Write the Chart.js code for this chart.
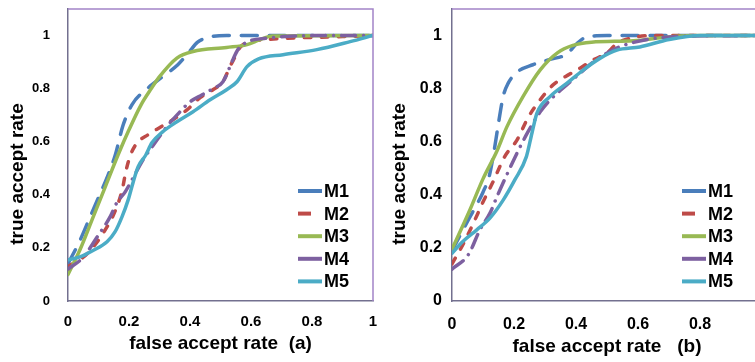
<!DOCTYPE html>
<html>
<head>
<meta charset="utf-8">
<script src="https://cdn.jsdelivr.net/npm/chart.js@4.4.1/dist/chart.umd.min.js"></script>
<style>
  html, body { margin: 0; padding: 0; background: #fff; overflow: hidden; }
  #wrap { position: relative; width: 755px; height: 362px; overflow: hidden; }
  canvas { position: absolute; top: 0; }
  #chartA { left: 0; }
  #chartB { left: 380px; }
</style>
</head>
<body>
<div id="wrap">
  <canvas id="chartA" width="380" height="362"></canvas>
  <canvas id="chartB" width="400" height="362"></canvas>
</div>
<script>
// series names and tick values
const seriesNames = ['M1', 'M2', 'M3', 'M4', 'M5'];
const xTicks = [0, 0.2, 0.4, 0.6, 0.8, 1];
const yTicks = [0, 0.2, 0.4, 0.6, 0.8, 1];

// panel (a): [false accept rate, true accept rate]
const a_M1 = [[0,0.14],[0.04,0.23],[0.07,0.31],[0.1,0.39],[0.13,0.47],[0.155,0.55],[0.18,0.66],[0.21,0.74],[0.26,0.8],[0.31,0.845],[0.36,0.89],[0.395,0.935],[0.425,0.975],[0.46,0.993],[0.52,1],[0.7,1],[1,1]];
const a_M2 = [[0,0.13],[0.05,0.165],[0.08,0.2],[0.115,0.255],[0.155,0.34],[0.178,0.42],[0.19,0.49],[0.205,0.55],[0.226,0.595],[0.262,0.626],[0.3,0.653],[0.344,0.683],[0.39,0.72],[0.433,0.766],[0.475,0.796],[0.508,0.826],[0.531,0.883],[0.548,0.92],[0.564,0.955],[0.597,0.977],[0.652,0.985],[0.72,0.99],[0.9,0.996],[1,1]];
const a_M3 = [[0,0.1],[0.04,0.195],[0.083,0.318],[0.127,0.444],[0.164,0.55],[0.2,0.645],[0.24,0.74],[0.273,0.8],[0.3,0.845],[0.357,0.915],[0.41,0.94],[0.52,0.955],[0.587,0.966],[0.63,0.985],[0.67,0.998],[1,1]];
const a_M4 = [[0,0.12],[0.05,0.165],[0.095,0.24],[0.138,0.317],[0.16,0.37],[0.187,0.41],[0.21,0.457],[0.246,0.532],[0.269,0.57],[0.324,0.657],[0.357,0.7],[0.4,0.75],[0.44,0.777],[0.475,0.8],[0.508,0.826],[0.541,0.91],[0.557,0.947],[0.59,0.977],[0.652,0.99],[0.8,1],[1,1]];
const a_M5 = [[0,0.155],[0.039,0.166],[0.082,0.19],[0.128,0.223],[0.154,0.26],[0.177,0.317],[0.197,0.38],[0.213,0.445],[0.23,0.506],[0.255,0.55],[0.275,0.596],[0.311,0.638],[0.357,0.675],[0.41,0.713],[0.466,0.758],[0.52,0.796],[0.554,0.826],[0.587,0.883],[0.625,0.912],[0.705,0.928],[0.816,0.947],[0.925,0.977],[1,1]];

// panel (b)
const b_M1 = [[0,0.19],[0.05,0.3],[0.1,0.41],[0.12,0.47],[0.135,0.56],[0.15,0.67],[0.165,0.77],[0.181,0.82],[0.213,0.865],[0.261,0.89],[0.316,0.91],[0.37,0.93],[0.403,0.97],[0.435,0.995],[0.5,1],[1,1]];
const b_M2 = [[0,0.14],[0.035,0.212],[0.074,0.306],[0.1,0.373],[0.132,0.448],[0.17,0.544],[0.21,0.607],[0.245,0.69],[0.284,0.757],[0.326,0.814],[0.38,0.855],[0.413,0.877],[0.455,0.908],[0.5,0.934],[0.532,0.97],[0.584,0.992],[0.65,1],[1,1]];
const b_M3 = [[0,0.195],[0.058,0.344],[0.1,0.46],[0.145,0.565],[0.177,0.656],[0.229,0.77],[0.284,0.87],[0.34,0.935],[0.39,0.963],[0.45,0.975],[0.585,0.98],[0.7,0.995],[0.8,1],[1,1]];
const b_M4 = [[0,0.12],[0.053,0.175],[0.09,0.268],[0.123,0.332],[0.145,0.393],[0.177,0.476],[0.213,0.565],[0.245,0.637],[0.284,0.712],[0.316,0.757],[0.37,0.814],[0.413,0.858],[0.455,0.9],[0.54,0.957],[0.63,0.985],[0.75,0.997],[1,1]];
const b_M5 = [[0,0.18],[0.035,0.224],[0.08,0.268],[0.123,0.313],[0.165,0.38],[0.203,0.457],[0.24,0.544],[0.258,0.633],[0.274,0.708],[0.316,0.77],[0.37,0.82],[0.423,0.87],[0.477,0.914],[0.532,0.945],[0.606,0.957],[0.7,0.985],[0.8,1],[1,1]];

// styles
const seriesColors = ['#4a7ebb', '#be4b48', '#98b954', '#7d60a0', '#4bacc6'];
const seriesDash = [[16, 12], [6.5, 10.5], [], [14, 8, 0.01, 8], []];
const legendDash = [[], [13, 40], [], [], []];
const axisColor = '#73708f';
const boxColor = '#a284c8';
const FONT = '"Liberation Sans", Arial, sans-serif';

Chart.defaults.font.family = FONT;
Chart.defaults.color = '#000';

const fmt = v => String(Math.round(v * 10) / 10);

// plot frame (top/right), rotated y title and the inner legend
const decor = {
  id: 'decor',
  afterDraw(chart, args, o) {
    const { ctx, chartArea: a } = chart;
    ctx.save();
    ctx.strokeStyle = boxColor;
    ctx.lineWidth = 1.5;
    ctx.beginPath();
    ctx.moveTo(a.left, a.top);
    ctx.lineTo(a.right, a.top);
    ctx.lineTo(a.right, a.bottom);
    ctx.stroke();

    ctx.fillStyle = '#000';
    ctx.font = 'bold 19px ' + FONT;
    ctx.textAlign = 'center';
    ctx.textBaseline = 'middle';
    ctx.translate(o.titleX, o.titleY);
    ctx.rotate(-Math.PI / 2);
    ctx.fillText(o.yTitle, 0, 0);
    ctx.restore();

    ctx.save();
    ctx.font = 'bold 18px ' + FONT;
    ctx.textAlign = 'left';
    ctx.textBaseline = 'middle';
    chart.data.datasets.forEach((ds, i) => {
      const y = a.top + 182 + i * 22.6;
      const x0 = a.left + 230;
      ctx.strokeStyle = ds.borderColor;
      ctx.lineWidth = 4;
      ctx.lineCap = 'butt';
      ctx.setLineDash(ds.legendDash);
      ctx.beginPath();
      ctx.moveTo(x0, y);
      ctx.lineTo(x0 + 24, y);
      ctx.stroke();
      ctx.setLineDash([]);
      ctx.fillStyle = '#000';
      ctx.fillText(ds.label, a.left + 256, y + 1);
    });
    ctx.restore();
  }
};

function makePanel(id, series, opt) {
  const datasets = seriesNames.map((name, i) => ({
    label: name,
    data: series[i].map(p => ({ x: p[0], y: p[1] })),
    borderColor: seriesColors[i],
    borderWidth: 3.5,
    borderDash: seriesDash[i],
    legendDash: legendDash[i],
    borderCapStyle: 'round',
    borderJoinStyle: 'round',
    pointRadius: 0,
    pointHoverRadius: 0,
    showLine: true,
    fill: false,
    cubicInterpolationMode: 'monotone',
    order: 5 - i
  }));

  return new Chart(document.getElementById(id), {
    type: 'scatter',
    data: { datasets },
    options: {
      responsive: false,
      animation: false,
      layout: { padding: { left: 0, top: 9, right: opt.padRight, bottom: 0 } },
      plugins: {
        legend: { display: false },
        tooltip: { enabled: false },
        decor: { yTitle: 'true accept rate', titleX: opt.yTitleX, titleY: 174 }
      },
      scales: {
        x: {
          type: 'linear', min: 0, max: 1,
          afterBuildTicks: s => { s.ticks = xTicks.map(v => ({ value: v })); },
          afterFit: s => { s.height = 61; s.paddingLeft = 0; s.paddingRight = 0; },
          grid: { display: false, drawTicks: false },
          border: { display: true, color: axisColor, width: 1.5 },
          ticks: {
            font: { size: opt.xTickSize, weight: 'bold' }, color: '#000',
            padding: opt.xTickPad, maxRotation: 0, autoSkip: false,
            callback: v => fmt(v)
          },
          title: {
            display: true, text: opt.xTitle, color: '#000',
            font: { size: 19, weight: 'bold' },
            padding: { top: 0, bottom: opt.xTitlePad }
          }
        },
        y: {
          type: 'linear', min: 0, max: 1.1,
          afterBuildTicks: s => { s.ticks = yTicks.map(v => ({ value: v })); },
          afterFit: s => { s.width = opt.yWidth; s.paddingTop = 0; s.paddingBottom = 0; },
          grid: { display: false, drawTicks: false },
          border: { display: true, color: axisColor, width: 1.5 },
          ticks: {
            font: { size: opt.yTickSize, weight: 'bold' }, color: '#000',
            padding: opt.yTickPad, autoSkip: false,
            callback: v => fmt(v)
          }
        }
      }
    },
    plugins: [decor]
  });
}

makePanel('chartA', [a_M1, a_M2, a_M3, a_M4, a_M5], {
  xTitle: 'false accept rate  (a)', padRight: 7, yWidth: 68,
  xTickSize: 15, xTickPad: 12, yTickSize: 13, yTickPad: 18,
  xTitlePad: 7, yTitleX: 18
});

makePanel('chartB', [b_M1, b_M2, b_M3, b_M4, b_M5], {
  xTitle: 'false accept rate   (b)', padRight: 18, yWidth: 72,
  xTickSize: 16, xTickPad: 14, yTickSize: 16, yTickPad: 10,
  xTitlePad: 4, yTitleX: 20
});
</script>
</body>
</html>
